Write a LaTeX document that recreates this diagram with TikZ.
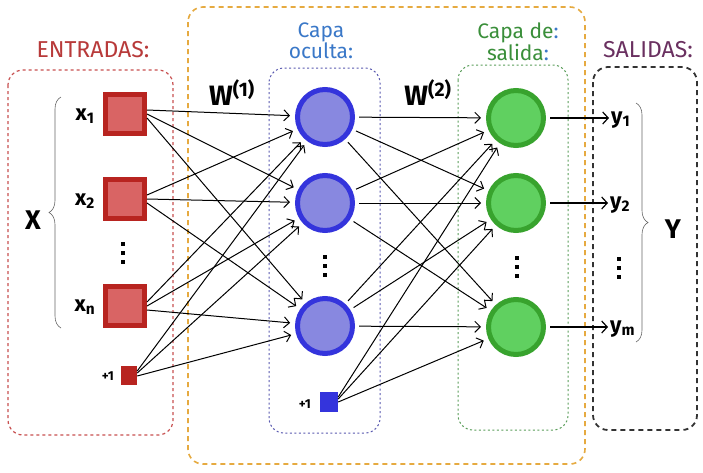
\documentclass[tikz,border=0pt]{standalone}
\usepackage{fontspec}
\setmainfont{Fira Sans}
\usetikzlibrary{arrows.meta,decorations.pathreplacing,calc}
\definecolor{inred}{HTML}{D96464}
\definecolor{inredd}{HTML}{B82420}
\definecolor{hidfill}{HTML}{8888E0}
\definecolor{hiddraw}{HTML}{3434DC}
\definecolor{outfill}{HTML}{60D060}
\definecolor{outdraw}{HTML}{38A32E}
\definecolor{lblred}{HTML}{B83A3A}
\definecolor{lblblue}{HTML}{3A78C8}
\definecolor{lblgreen}{HTML}{3A8F3A}
\definecolor{lblpurple}{HTML}{6A3060}
\definecolor{boxorange}{HTML}{E6AA40}
\definecolor{boxred}{HTML}{C85050}
\definecolor{boxblue}{HTML}{5A5AB0}
\definecolor{boxgreen}{HTML}{5A9E5A}
\tikzset{
  inbox/.style={rectangle, minimum size=39pt, line width=5pt, fill=inred, draw=inredd, inner sep=0pt},
  biasred/.style={rectangle, minimum width=16pt, minimum height=19pt, fill=inredd, inner sep=0pt},
  biasblue/.style={rectangle, minimum width=18pt, minimum height=20pt, fill=hiddraw, inner sep=0pt},
  hidnode/.style={circle, minimum size=55pt, line width=5pt, fill=hidfill, draw=hiddraw, inner sep=0pt},
  outnode/.style={circle, minimum size=55pt, line width=5pt, fill=outfill, draw=outdraw, inner sep=0pt},
  edge/.style={line width=1pt, -{Straight Barb[length=5.5pt,width=11pt,line width=1pt]}, shorten >=5pt},
  outedge/.style={line width=1.3pt, -{Straight Barb[length=5.5pt,width=12pt,line width=1.2pt]}, shorten <=4pt, shorten >=1pt},
  grp/.style={rounded corners=15pt},
  captitle/.style={font=\fontsize{23}{20}\selectfont, align=center, inner sep=0pt},
  title/.style={font=\fontsize{21}{19}\selectfont, align=center, inner sep=0pt},
  vlabel/.style={font=\fontsize{22}{22}\selectfont\bfseries, inner sep=1pt},
  biglabel/.style={font=\fontsize{27}{27}\selectfont\bfseries, inner sep=0pt},
  plusone/.style={font=\fontsize{13}{13}\selectfont\bfseries, inner sep=0pt},
  bracestyle/.style={decorate, decoration={brace, amplitude=12pt}, draw=gray!80!black, line width=0.6pt},
  pics/vdots/.style={code={
    \fill (-2.2pt,-11pt) rectangle (2.2pt,-6.6pt);
    \fill (-2.2pt,-2.2pt) rectangle (2.2pt,2.2pt);
    \fill (-2.2pt,6.6pt) rectangle (2.2pt,11pt);
  }}
}
\begin{document}
\begin{tikzpicture}[x=1pt,y=-1pt]
\useasboundingbox (0,0) rectangle (703,472);
\fill[white] (0,0) rectangle (703,472);

% group boxes
\draw[grp, draw=boxred, line width=1.2pt, dash pattern=on 3pt off 3pt] (8,70) rectangle (173,435);
\draw[grp, draw=boxorange, line width=1.6pt, dash pattern=on 5pt off 4pt] (188,7) rectangle (585,464);
\draw[grp, draw=boxblue, line width=1pt, dash pattern=on 2pt off 2.5pt] (269,68) rectangle (380,433);
\draw[grp, draw=boxgreen, line width=1pt, dash pattern=on 2pt off 2.5pt] (458,65) rectangle (568,430);
\draw[grp, draw=black!80, line width=1.8pt, dash pattern=on 5pt off 4pt] (593,67) rectangle (697,430);

% titles
\node[captitle, text=lblred] (tin) at (93,50) {ENTRADAS:};
\node[title, text=lblblue] (thid) at (321,41) {Capa\\oculta:};
\node[title, text=lblgreen] (tout) at (518,42) {Capa de\textcolor{lblblue}{:}\\salida\textcolor{lblblue}{:}};
\node[captitle, text=lblpurple] (tsal) at (648,50) {SALIDAS:};

% input nodes
\node[inbox] (x1) at (125,114) {};
\node[inbox] (x2) at (125,199) {};
\node[inbox] (xn) at (125,306) {};
\node[biasred] (b1) at (129,375) {};
\node[vlabel] (lx1) at (85,116) {x\textsubscript{1}};
\node[vlabel] (lx2) at (85,201) {x\textsubscript{2}};
\node[vlabel] (lxn) at (85,307) {x\textsubscript{n}};
\node[plusone] (lb1) at (108,376) {+1};
\pic at (123,253) {vdots};

% hidden nodes
\node[hidnode] (h1) at (325,117) {};
\node[hidnode] (h2) at (325,203) {};
\node[hidnode] (h3) at (325,326) {};
\node[biasblue] (b2) at (329,402) {};
\node[plusone] (lb2) at (305,404) {+1};
\pic at (325,266) {vdots};

% output nodes
\node[outnode] (o1) at (516,118) {};
\node[outnode] (o2) at (516,203) {};
\node[outnode] (o3) at (516,327) {};
\pic at (517,267) {vdots};

% output labels
\node[vlabel, anchor=west] (y1) at (610,120) {y\textsubscript{1}};
\node[vlabel, anchor=west] (y2) at (609,205) {y\textsubscript{2}};
\node[vlabel, anchor=west] (ym) at (609,329) {y\textsubscript{m}};
\pic at (619,268) {vdots};

% big labels
\node[biglabel] (X) at (33,220) {X};
\node[biglabel] (Y) at (673,229) {Y};
\node[font=\fontsize{28}{28}\selectfont\bfseries, inner sep=0pt] (W1) at (232,93) {W\textsuperscript{(1)}};
\node[font=\fontsize{28}{28}\selectfont\bfseries, inner sep=0pt] (W2) at (428,93) {W\textsuperscript{(2)}};

% braces
\draw[bracestyle] (61,328) -- (61,97);
\draw[bracestyle] (636,103) -- (636,342);

% input -> hidden
\foreach \i in {x1,x2,xn}{
  \draw[edge] ([yshift=4pt]\i.east) -- (h1);
  \draw[edge] ([yshift=0pt]\i.east) -- (h2);
  \draw[edge] ([yshift=-4pt]\i.east) -- (h3);
}
\draw[edge] ([yshift=4pt]b1.east) -- (h1);
\draw[edge] ([yshift=2pt]b1.east) -- (h2);
\draw[edge] ([yshift=-1pt]b1.east) -- (h3);

% hidden -> output
\foreach \i in {h1,h2,h3}{
  \draw[edge, shorten <=4pt] (\i) -- (o1);
  \draw[edge, shorten <=4pt] (\i) -- (o2);
  \draw[edge, shorten <=4pt] (\i) -- (o3);
}
\draw[edge] ([yshift=5pt]b2.east) -- (o1);
\draw[edge] ([yshift=3pt]b2.east) -- (o2);
\draw[edge] ([yshift=0pt]b2.east) -- (o3);

% output arrows
\draw[outedge] (o1) -- (o1 -| y1.west);
\draw[outedge] (o2) -- (o2 -| y2.west);
\draw[outedge] (o3) -- (o3 -| ym.west);
\end{tikzpicture}
\end{document}
